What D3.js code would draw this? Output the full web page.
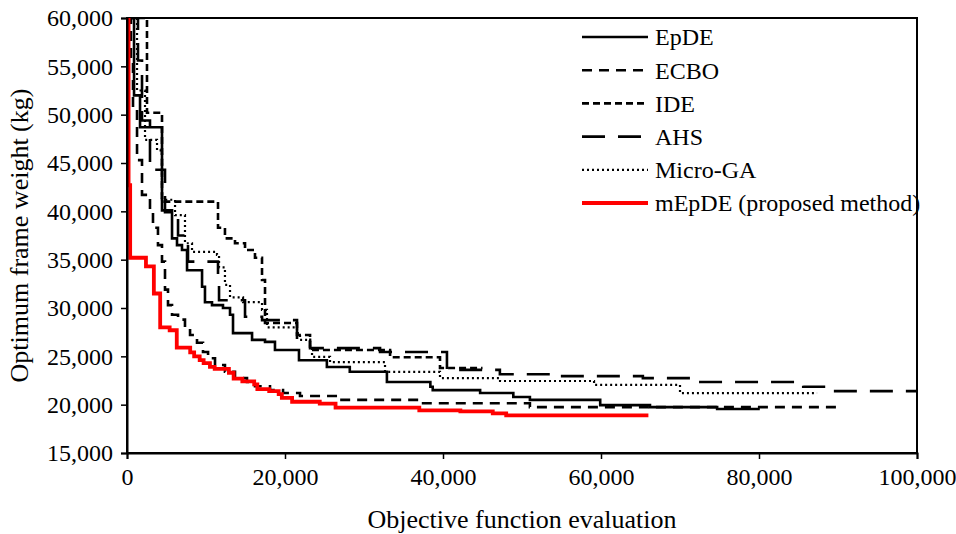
<!DOCTYPE html>
<html>
<head>
<meta charset="utf-8">
<script src="https://cdn.jsdelivr.net/npm/d3@7"></script>
<style>
  body { margin: 0; background: #fff; }
  svg { display: block; }
  svg text { font-family: "Liberation Serif", "Times New Roman", Times, serif; fill: #000; }
</style>
</head>
<body>
<svg id="chart" width="956" height="534"></svg>
<script>
// x ticks and y ticks
var xTicks = [0, 20000, 40000, 60000, 80000, 100000];
var yTicks = [15000, 20000, 25000, 30000, 35000, 40000, 45000, 50000, 55000, 60000];

// series names
var seriesNames = ["EpDE", "ECBO", "IDE", "AHS", "Micro-GA", "mEpDE (proposed method)"];

// [evaluations, weight] — weight holds until the next point (step after)
var epde = [[0,60000],[890,52000],[1650,48700],[4430,40100],[5700,37200],[6330,36500],[6960,36000],[7600,33900],
  [9500,32200],[9870,30600],[10760,30300],[12150,30000],[13040,29300],[13420,27400],[15830,26700],[17470,26500],
  [18730,25650],[21770,24600],[25300,23900],[28200,23400],[32900,22350],[38400,21850],[38700,21500],[44700,21200],
  [48900,20800],[51000,20500],[59900,19950],[66200,19750],[74700,19550],[80100,19550]];

var ecbo = [[0,60000],[500,55600],[760,50500],[1270,45300],[1900,41700],[2910,40100],[3290,38300],[3920,36500],
  [4430,34800],[4810,31900],[5190,30300],[5700,29300],[6460,28800],[7340,27900],[7980,27200],[8860,26400],
  [9620,25450],[10260,24800],[11140,24100],[12400,23400],[13670,22750],[15190,22350],[16200,21900],[18100,21500],
  [19750,21200],[21900,20900],[26970,20500],[37100,20150],[51000,19750],[90300,19750]];

var ide = [[0,60000],[2530,50200],[4430,41000],[11520,38300],[12400,37200],[13670,36700],[14940,36000],
  [16200,35200],[17090,32900],[17470,28450],[21520,27200],[23170,25650],[33300,24900],[39620,23800],[45000,23800]];

var ahs = [[0,60000],[1390,55600],[1900,49400],[2910,44300],[4810,39900],[6460,37500],[7720,34800],[11520,33200],
  [11650,30800],[14940,29100],[17100,28750],[21520,26700],[23170,25850],[32030,25450],[40500,23600],[47200,23150],
  [54800,22950],[65300,22750],[71300,22350],[85600,21850],[89400,21400],[100000,21400]];

var microGA = [[0,60000],[1270,52500],[2280,47400],[3800,46300],[4430,41200],[6080,39600],[7340,36700],[8230,35800],
  [11390,35500],[11650,34200],[12400,32400],[13040,31100],[14690,30600],[17090,29800],[17720,28000],[21520,27400],
  [21900,26700],[23170,25950],[23420,24950],[25700,24400],[32660,23400],[39620,22750],[47220,22450],[59120,22050],
  [70000,21200],[87350,21200]];

var mepde = [[0,60000],[200,42700],[400,35200],[2400,34300],[3400,31500],[4200,28000],[5400,27700],[6300,25900],
  [8000,25400],[8500,25000],[9200,24600],[9700,24300],[10500,23900],[11100,23700],[12900,23300],[13500,22700],
  [14600,22400],[16100,22100],[16500,21600],[18000,21400],[19200,21100],[19600,20700],[20900,20300],[24400,20100],
  [26400,19700],[37000,19400],[42200,19300],[46300,19100],[48000,18900],[66000,18900]];

var allSeries = [epde, ecbo, ide, ahs, microGA, mepde];
var styles = [
  { stroke: "#000", width: 2.6, dash: null },
  { stroke: "#000", width: 2.6, dash: "10,7" },
  { stroke: "#000", width: 2.6, dash: "7,4" },
  { stroke: "#000", width: 2.6, dash: "23,13" },
  { stroke: "#000", width: 2.2, dash: "2,3" },
  { stroke: "#ff0000", width: 3.8, dash: null }
];

var svg = d3.select("#chart");
var plotLeft = 127, plotRight = 917, plotTop = 18, plotBottom = 453;

var x = d3.scaleLinear().domain([0, 100000]).range([plotLeft, plotRight]);
var y = d3.scaleLinear().domain([15000, 60000]).range([plotBottom, plotTop]);

svg.append("defs").append("clipPath").attr("id", "plot")
  .append("rect").attr("x", plotLeft).attr("y", plotTop)
  .attr("width", plotRight - plotLeft).attr("height", plotBottom - plotTop);

// frame
svg.append("rect")
  .attr("x", plotLeft).attr("y", plotTop)
  .attr("width", plotRight - plotLeft).attr("height", plotBottom - plotTop)
  .attr("fill", "none").attr("stroke", "#000").attr("stroke-width", 2);

var line = d3.line()
  .x(function(d) { return x(d[0]); })
  .y(function(d) { return y(d[1]); })
  .curve(d3.curveStepAfter);

var lines = svg.append("g").attr("clip-path", "url(#plot)");
allSeries.forEach(function(s, i) {
  lines.append("path")
    .attr("d", line(s))
    .attr("fill", "none")
    .attr("stroke", styles[i].stroke)
    .attr("stroke-width", styles[i].width)
    .attr("stroke-dasharray", styles[i].dash);
});

// axes
var xAxis = svg.append("g")
  .attr("transform", "translate(0," + plotBottom + ")")
  .call(d3.axisBottom(x).tickValues(xTicks).tickFormat(d3.format(",")).tickSize(6).tickPadding(9));
var yAxis = svg.append("g")
  .attr("transform", "translate(" + plotLeft + ",0)")
  .call(d3.axisLeft(y).tickValues(yTicks).tickFormat(d3.format(",")).tickSize(6).tickPadding(8));

[xAxis, yAxis].forEach(function(a) {
  a.attr("font-family", null).attr("font-size", null);
  a.select(".domain").attr("stroke-width", 2);
  a.selectAll(".tick line").attr("stroke-width", 1.5);
  a.selectAll("text").style("font-size", "24px");
});

// axis titles
svg.append("text")
  .attr("x", (plotLeft + plotRight) / 2).attr("y", 528)
  .attr("text-anchor", "middle").style("font-size", "26px")
  .text("Objective function evaluation");
svg.append("text")
  .attr("transform", "translate(28," + (plotTop + plotBottom) / 2 + ") rotate(-90)")
  .attr("text-anchor", "middle").style("font-size", "26px")
  .text("Optimum frame weight (kg)");

// legend
var legend = svg.append("g");
seriesNames.forEach(function(name, i) {
  var ly = 37 + i * 33.2;
  legend.append("line")
    .attr("x1", 582).attr("x2", 648).attr("y1", ly).attr("y2", ly)
    .attr("stroke", styles[i].stroke)
    .attr("stroke-width", styles[i].width)
    .attr("stroke-dasharray", styles[i].dash);
  legend.append("text")
    .attr("x", 655).attr("y", ly).attr("dy", "0.35em")
    .style("font-size", "24px")
    .text(name);
});
</script>
</body>
</html>
